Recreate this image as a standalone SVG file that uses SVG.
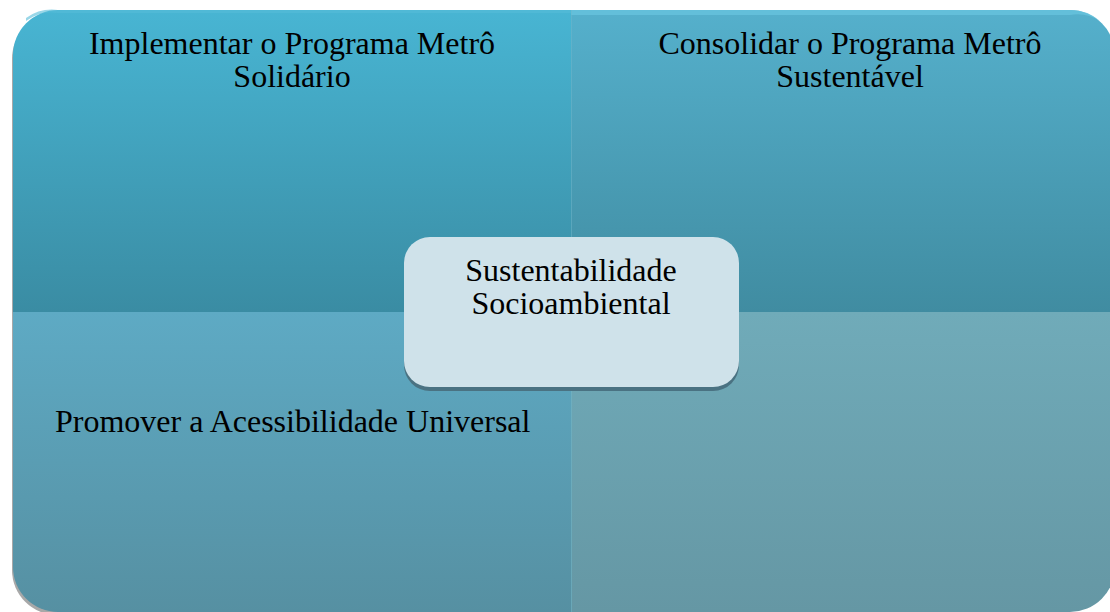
<svg xmlns="http://www.w3.org/2000/svg" width="1110" height="612" viewBox="0 0 1110 612">
<style>
.t{font-family:"Liberation Serif","Times New Roman",serif;font-size:32px;fill:#000;}
.c{text-anchor:middle;}
</style>
<defs>
<linearGradient id="gTL" x1="0" y1="0" x2="0" y2="1"><stop offset="0" stop-color="#48B5D3"/><stop offset="1" stop-color="#3A8CA3"/></linearGradient>
<linearGradient id="gTR" x1="0" y1="0" x2="0" y2="1"><stop offset="0" stop-color="#55B0CC"/><stop offset="1" stop-color="#408CA1"/></linearGradient>
<linearGradient id="gBL" x1="0" y1="0" x2="0" y2="1"><stop offset="0" stop-color="#5EAAC4"/><stop offset="1" stop-color="#5690A2"/></linearGradient>
<linearGradient id="gBR" x1="0" y1="0" x2="0" y2="1"><stop offset="0" stop-color="#70ABB9"/><stop offset="1" stop-color="#6597A4"/></linearGradient>
</defs>
<rect x="0" y="0" width="1110" height="612" fill="#ffffff"/>
<rect x="12" y="14" width="700" height="601" rx="45" fill="#a8a8a8"/>
<g id="q-tl">
<path d="M13,312 V55 A45,45 0 0 1 58,10 H571 V312 Z" fill="url(#gTL)"/>
<path d="M26,18 A45,45 0 0 1 58,10 H571 V13 H58 A42,42 0 0 0 26,21 Z" fill="#56BCD8" opacity="0.6"/>
<text class="t c" x="292" y="54">Implementar o Programa Metrô</text>
<text class="t c" x="292" y="87">Solidário</text>
</g>
<g id="q-tr">
<path d="M571,10 H1070 A45,45 0 0 1 1115,55 V312 H571 Z" fill="url(#gTR)"/>
<path d="M571,10 H1070 A45,45 0 0 1 1100,21 A42,42 0 0 0 1070,15 H571 Z" fill="#66C3DD" opacity="0.8"/>
<text class="t c" x="850" y="54">Consolidar o Programa Metrô</text>
<text class="t c" x="850" y="87">Sustentável</text>
</g>
<g id="q-bl">
<path d="M13,312 H571 V612 H58 A45,45 0 0 1 13,567 Z" fill="url(#gBL)"/>
<text class="t" x="55" y="432">Promover a Acessibilidade Universal</text>
</g>
<g id="q-br">
<path d="M571,312 H1115 V567 A45,45 0 0 1 1070,612 H571 Z" fill="url(#gBR)"/>
</g>
<line x1="571.5" y1="10" x2="571.5" y2="612" stroke="#6FB8CC" stroke-width="1" opacity="0.5"/>
<g id="center">
<rect x="404" y="241" width="335" height="150" rx="26" fill="#4A7282"/>
<rect x="404" y="237" width="335" height="150" rx="26" fill="#CFE2EA"/>
<text class="t c" x="571" y="281">Sustentabilidade</text>
<text class="t c" x="571" y="314">Socioambiental</text>
</g>
<g id="connectors"/>
</svg>
